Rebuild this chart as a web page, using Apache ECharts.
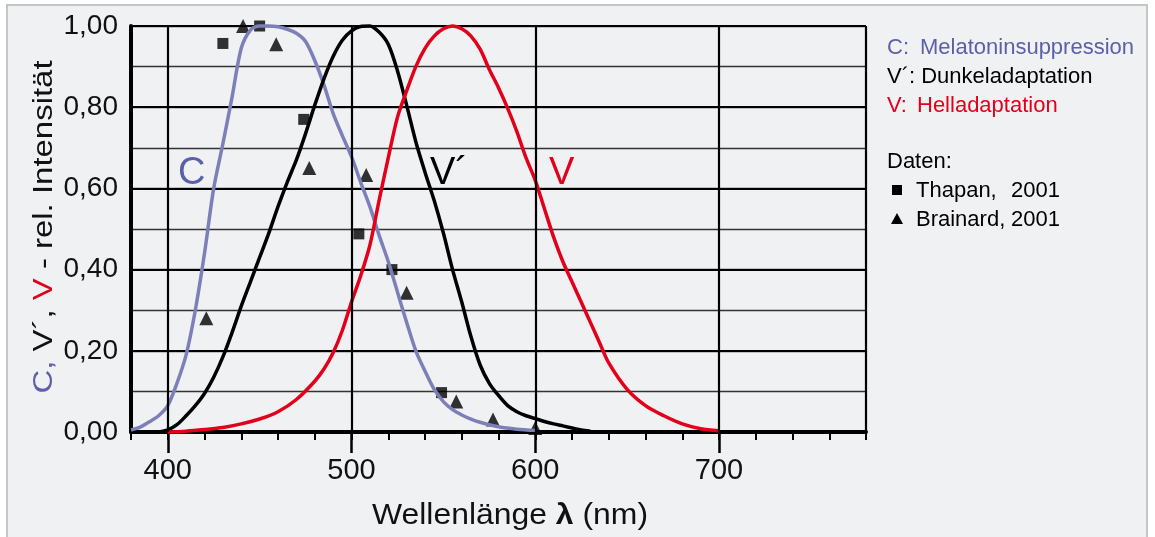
<!DOCTYPE html>
<html>
<head>
<meta charset="utf-8">
<title>Melatoninsuppression</title>
<script src="https://cdn.jsdelivr.net/npm/echarts@6/dist/echarts.min.js"></script>
<style>
  html, body { margin: 0; padding: 0; background: #fff; }
  #main { width: 1155px; height: 537px; }
</style>
</head>
<body>
<div id="main"></div>
<script type="text/javascript">
// C: Melatoninsuppression
var cWl  = [380,385,390,395,400,405,410,415,420,425,430,435,440,445,450,455,460,465,470,475,480,485,490,495,500,505,510,515,520,525,530,535,540,545,550,555,560,565,570,580,590,600];
var cVal = [0.005,0.012,0.025,0.04,0.065,0.12,0.19,0.3,0.44,0.6,
            0.71,0.825,0.945,0.99,1.0,1.0,0.998,0.992,0.982,0.962,
            0.915,0.855,0.785,0.73,0.678,0.615,0.555,0.485,0.42,0.345,
            0.27,0.2,0.15,0.105,0.075,0.055,0.042,0.032,0.024,
            0.013,0.007,0.004];
// V´: Dunkeladaptation
var vsWl  = [395,400,405,410,415,420,425,430,435,440,445,450,455,460,465,470,475,480,485,490,495,500,505,510,515,520,525,530,535,540,545,550,555,560,565,570,575,580,585,590,595,600,605,610,615,620,625,630];
var vsVal = [0,0.005,0.018,0.04,0.065,0.095,0.135,0.185,0.245,0.31,
             0.37,0.43,0.49,0.555,0.615,0.67,0.735,0.805,0.87,0.925,
             0.965,0.988,0.999,1.0,0.985,0.955,0.89,0.805,0.715,0.64,
             0.57,0.49,0.4,0.32,0.235,0.165,0.12,0.09,0.065,0.05,
             0.04,0.033,0.026,0.02,0.015,0.01,0.005,0.002];
// V: Helladaptation
var vWl  = [400,410,420,430,440,450,460,470,480,485,490,495,500,505,510,515,520,525,530,535,540,545,550,555,560,565,570,575,580,585,590,595,600,605,610,615,620,625,630,635,640,650,660,670,680,690,700];
var vVal = [0,0.002,0.006,0.011,0.02,0.032,0.05,0.08,
            0.125,0.155,0.195,0.25,0.32,0.385,0.46,0.57,0.675,0.775,0.84,0.9,
            0.945,0.975,0.993,1.0,0.993,0.975,0.943,0.893,0.848,0.797,0.74,0.675,
            0.62,0.55,0.48,0.42,0.37,0.32,0.27,0.22,0.17,
            0.105,0.065,0.04,0.02,0.008,0.003];
// Messdaten
var thapanWl  = [430,450,474,504,522,549];
var thapanVal = [0.957,1.0,0.77,0.488,0.40,0.097];
var brainardWl  = [421,441,459,477,508,530,557,577,600];
var brainardVal = [0.28,1.0,0.955,0.65,0.633,0.343,0.075,0.031,0.01];
// Achsen
var xMajor = [400,500,600,700];
var xBorder = 780;

function pairs(xs, ys) {
    return xs.map(function (x, i) { return [x, ys[i]]; });
}

var FONT = 'Liberation Sans, Arial, sans-serif';
var BLUE = '#7c80b9';
var BLUE_TXT = '#5b60a9';
var RED = '#e2001a';

var myChart = echarts.init(document.getElementById('main'));

var option = {
    backgroundColor: '#ffffff',
    animation: false,
    textStyle: { fontFamily: FONT },
    grid: { left: 131, top: 26, right: 289, bottom: 105, outerBoundsMode: 'none', containLabel: false },
    xAxis: [
        {
            type: 'value', min: 380, max: 780, interval: 20,
            axisLine: { show: true, lineStyle: { color: '#000', width: 4 } },
            axisTick: { show: true, length: 8, lineStyle: { color: '#000', width: 2 } },
            axisLabel: { show: false },
            splitLine: { show: false }
        },
        {
            type: 'value', min: 380, max: 780, position: 'bottom',
            axisLine: { show: false },
            axisTick: { show: true, length: 21, customValues: xMajor, lineStyle: { color: '#000', width: 2.5 } },
            axisLabel: { show: true, customValues: xMajor, fontSize: 29, color: '#111', margin: 24, fontFamily: FONT },
            splitLine: { show: false }
        }
    ],
    yAxis: [
        {
            type: 'value', min: 0, max: 1, interval: 0.1,
            axisLine: { show: true, lineStyle: { color: '#000', width: 4 } },
            axisTick: { show: false },
            axisLabel: {
                fontSize: 28, color: '#111', margin: 13, fontFamily: FONT,
                formatter: function (v) {
                    var k = Math.round(v * 10);
                    if (k % 2 !== 0) return '';
                    return (k / 10).toFixed(2).replace('.', ',');
                }
            },
            splitLine: { show: true, lineStyle: { color: '#333', width: 1.3 } }
        },
        {
            type: 'value', min: 0, max: 1, interval: 0.2,
            axisLine: { show: false },
            axisTick: { show: false },
            axisLabel: { show: false },
            splitLine: { show: true, lineStyle: { color: '#000', width: 2.2 } }
        }
    ],
    series: [
        {
            name: 'Raster', type: 'line', data: [], silent: true,
            markLine: {
                silent: true, symbol: 'none', label: { show: false },
                lineStyle: { color: '#000', width: 2.2, type: 'solid' },
                data: xMajor.concat([xBorder]).map(function (x) { return { xAxis: x }; })
            }
        },
        {
            name: 'C', type: 'line', smooth: 0.3, showSymbol: false, clip: false,
            lineStyle: { color: BLUE, width: 3.5 }, itemStyle: { color: BLUE },
            data: pairs(cWl, cVal)
        },
        {
            name: 'V´', type: 'line', smooth: 0.3, showSymbol: false, clip: false,
            lineStyle: { color: '#000', width: 3.5 }, itemStyle: { color: '#000' },
            data: pairs(vsWl, vsVal)
        },
        {
            name: 'V', type: 'line', smooth: 0.3, showSymbol: false, clip: false,
            lineStyle: { color: RED, width: 3.5 }, itemStyle: { color: RED },
            data: pairs(vWl, vVal)
        },
        {
            name: 'Thapan, 2001', type: 'scatter', symbol: 'rect', symbolSize: 11,
            itemStyle: { color: '#000' },
            data: pairs(thapanWl, thapanVal)
        },
        {
            name: 'Brainard, 2001', type: 'scatter', symbol: 'triangle', symbolSize: 14,
            itemStyle: { color: '#000' },
            data: pairs(brainardWl, brainardVal)
        }
    ],
    graphic: {
        elements: [
            { type: 'rect', z: -10, silent: true,
              shape: { x: 7, y: 5, width: 1140, height: 545 },
              style: { fill: '#f0f1f3', stroke: '#c6c6c6', lineWidth: 2 } },
            // Achsentitel
            { type: 'text', x: 45, y: 227, rotation: Math.PI / 2, scaleX: 1.22,
              style: {
                  text: '{c|C,} {k|V´,} {r|V} {k|- rel. Intensität}',
                  align: 'center', verticalAlign: 'middle',
                  font: '27px ' + FONT,
                  rich: {
                      c: { fill: BLUE_TXT, font: '27px ' + FONT },
                      k: { fill: '#111', font: '27px ' + FONT },
                      r: { fill: RED, font: '27px ' + FONT }
                  }
              } },
            { type: 'text', x: 510, y: 516, scaleX: 1.1,
              style: {
                  text: 'Wellenlänge {b|λ} (nm)',
                  align: 'center', verticalAlign: 'middle',
                  fill: '#111', font: '29px ' + FONT,
                  rich: { b: { fill: '#111', font: 'bold 29px ' + FONT } }
              } },
            // Kurvenbeschriftung
            { type: 'text', left: 178, top: 155, style: { text: 'C', fill: BLUE_TXT, font: '38px ' + FONT } },
            { type: 'text', left: 430, top: 155, style: { text: 'V´', fill: '#000', font: '38px ' + FONT } },
            { type: 'text', left: 549, top: 155, style: { text: 'V', fill: RED, font: '38px ' + FONT } },
            // Legende
            { type: 'text', left: 887, top: 37, style: { text: 'C:', fill: BLUE_TXT, font: '22px ' + FONT } },
            { type: 'text', left: 920, top: 37, style: { text: 'Melatoninsuppression', fill: BLUE_TXT, font: '22px ' + FONT } },
            { type: 'text', left: 887, top: 66, style: { text: 'V´: Dunkeladaptation', fill: '#000', font: '22px ' + FONT } },
            { type: 'text', left: 887, top: 95, style: { text: 'V:', fill: RED, font: '22px ' + FONT } },
            { type: 'text', left: 917, top: 95, style: { text: 'Helladaptation', fill: RED, font: '22px ' + FONT } },
            { type: 'text', left: 887, top: 151, style: { text: 'Daten:', fill: '#000', font: '22px ' + FONT } },
            { type: 'rect', shape: { x: 892, y: 185, width: 10, height: 10 }, style: { fill: '#000' } },
            { type: 'text', left: 916, top: 180, style: { text: 'Thapan,', fill: '#000', font: '22px ' + FONT } },
            { type: 'text', left: 1011, top: 180, style: { text: '2001', fill: '#000', font: '22px ' + FONT } },
            { type: 'polygon', shape: { points: [[897, 213], [903, 224], [891, 224]] }, style: { fill: '#000' } },
            { type: 'text', left: 916, top: 209, style: { text: 'Brainard,', fill: '#000', font: '22px ' + FONT } },
            { type: 'text', left: 1011, top: 209, style: { text: '2001', fill: '#000', font: '22px ' + FONT } }
        ]
    }
};

myChart.setOption(option);
</script>
</body>
</html>
